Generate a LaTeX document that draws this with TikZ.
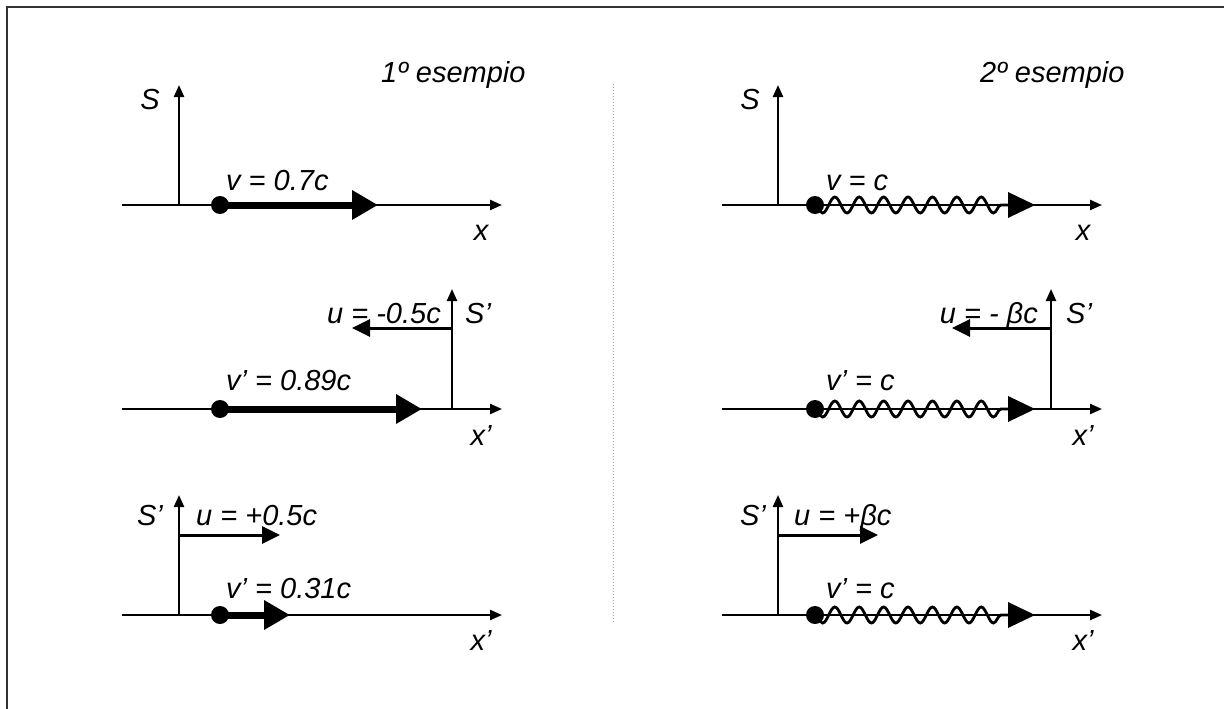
\documentclass[tikz,border=0pt]{standalone}
\usepackage{fontspec}
\setmainfont{Liberation Sans}
\usetikzlibrary{arrows.meta,decorations.pathmorphing}
\begin{document}
\begin{tikzpicture}[x=1pt,y=-1pt,
  lbl/.style={font=\fontsize{29}{33}\selectfont\itshape, inner sep=0pt},
  axisarr/.style={line width=2.3pt, -{Triangle[length=12pt,width=10pt]}},
  uarr/.style={line width=3pt, -{Triangle[length=18pt,width=17pt]}},
  velarr/.style={line width=7pt, -{Triangle[length=26pt,width=28pt]}},
  dotnode/.style={circle, fill=black, inner sep=0pt, minimum size=18pt},
  wave/.style={line width=2.8pt, decorate, decoration={snake, segment length=24.4pt, amplitude=8pt, mirror}},
  wavehead/.style={fill=black},
  sep/.style={gray!70, dotted, line width=1pt},
  framel/.style={line width=2pt, black!80}
]
\useasboundingbox (0,0) rectangle (1224,709);
% frame
\coordinate (fb) at (7,709); \coordinate (fc) at (7,7); \coordinate (fr) at (1224,7);
\draw[framel] (fb) -- (fc) -- (fr);
% separator
\coordinate (s1) at (613,84); \coordinate (s2) at (613,623);
\draw[sep] (s1) -- (s2);

% titles
\node[lbl, anchor=base west] (t1) at (381,83) {1º esempio};
\node[lbl, anchor=base west] (t2) at (980,83) {2º esempio};

% ---------- Example 1, row 1 ----------
\coordinate (a1l) at (122,205); \coordinate (a1r) at (502,205);
\coordinate (o1) at (179,205); \coordinate (o1t) at (179,85);
\draw[axisarr] (a1l) -- (a1r);
\draw[axisarr] (o1) -- (o1t);
\node[lbl, anchor=base] (S1) at (150,110) {S};
\node[lbl, anchor=base] (x1) at (481,240) {x};
\node[dotnode] (d1) at (220,205) {};
\coordinate (v1) at (378,205);
\draw[velarr] (d1.center) -- (v1);
\node[lbl, anchor=base west] (lv1) at (226,190) {v = 0.7c};

% ---------- Example 1, row 2 ----------
\coordinate (a2l) at (122,409); \coordinate (a2r) at (502,409);
\coordinate (o2) at (452,409); \coordinate (o2t) at (452,289);
\coordinate (u2s) at (452,328); \coordinate (u2e) at (352,328);
\draw[axisarr] (a2l) -- (a2r);
\draw[axisarr] (o2) -- (o2t);
\draw[uarr] (u2s) -- (u2e);
\node[lbl, anchor=base east] (lu2) at (441,323) {u = -0.5c};
\node[lbl, anchor=base west] (S2) at (465,323) {S'};
\node[lbl, anchor=base] (x2) at (481,445) {x'};
\node[dotnode] (d2) at (220,409) {};
\coordinate (v2) at (422,409);
\draw[velarr] (d2.center) -- (v2);
\node[lbl, anchor=base west] (lv2) at (226,390) {v' = 0.89c};

% ---------- Example 1, row 3 ----------
\coordinate (a3l) at (122,615); \coordinate (a3r) at (502,615);
\coordinate (o3) at (179,615); \coordinate (o3t) at (179,495);
\coordinate (u3s) at (179,535); \coordinate (u3e) at (280,535);
\draw[axisarr] (a3l) -- (a3r);
\draw[axisarr] (o3) -- (o3t);
\draw[uarr] (u3s) -- (u3e);
\node[lbl, anchor=base east] (S3) at (163,525) {S'};
\node[lbl, anchor=base west] (lu3) at (196,525) {u = +0.5c};
\node[lbl, anchor=base] (x3) at (481,650) {x'};
\node[dotnode] (d3) at (220,615) {};
\coordinate (v3) at (290,615);
\draw[velarr] (d3.center) -- (v3);
\node[lbl, anchor=base west] (lv3) at (226,598) {v' = 0.31c};

% ---------- Example 2, row 1 ----------
\coordinate (b1l) at (722,205); \coordinate (b1r) at (1102,205);
\coordinate (p1) at (778,205); \coordinate (p1t) at (778,85);
\draw[axisarr] (b1l) -- (b1r);
\draw[axisarr] (p1) -- (p1t);
\node[lbl, anchor=base] (T1) at (750,110) {S};
\node[lbl, anchor=base] (y1) at (1083,240) {x};
\node[dotnode] (e1) at (815,205) {};
\coordinate (w1) at (1010,205);
\draw[wave] (e1.center) -- (w1);
\fill[wavehead] (1008,192) -- (1035,205) -- (1008,218) -- cycle;
\node[lbl, anchor=base west] (lw1) at (826,190) {v = c};

% ---------- Example 2, row 2 ----------
\coordinate (b2l) at (722,409); \coordinate (b2r) at (1102,409);
\coordinate (p2) at (1051,409); \coordinate (p2t) at (1051,289);
\coordinate (q2s) at (1051,328); \coordinate (q2e) at (952,328);
\draw[axisarr] (b2l) -- (b2r);
\draw[axisarr] (p2) -- (p2t);
\draw[uarr] (q2s) -- (q2e);
\node[lbl, anchor=base east] (lq2) at (1038,323) {u = - βc};
\node[lbl, anchor=base west] (T2) at (1066,323) {S'};
\node[lbl, anchor=base] (y2) at (1083,445) {x'};
\node[dotnode] (e2) at (815,409) {};
\coordinate (w2) at (1010,409);
\draw[wave] (e2.center) -- (w2);
\fill[wavehead] (1008,396) -- (1035,409) -- (1008,422) -- cycle;
\node[lbl, anchor=base west] (lw2) at (826,390) {v' = c};

% ---------- Example 2, row 3 ----------
\coordinate (b3l) at (722,615); \coordinate (b3r) at (1102,615);
\coordinate (p3) at (778,615); \coordinate (p3t) at (778,495);
\coordinate (q3s) at (778,535); \coordinate (q3e) at (878,535);
\draw[axisarr] (b3l) -- (b3r);
\draw[axisarr] (p3) -- (p3t);
\draw[uarr] (q3s) -- (q3e);
\node[lbl, anchor=base east] (T3) at (766,525) {S'};
\node[lbl, anchor=base west] (lq3) at (794,525) {u = +βc};
\node[lbl, anchor=base] (y3) at (1083,650) {x'};
\node[dotnode] (e3) at (815,615) {};
\coordinate (w3) at (1010,615);
\draw[wave] (e3.center) -- (w3);
\fill[wavehead] (1008,602) -- (1035,615) -- (1008,628) -- cycle;
\node[lbl, anchor=base west] (lw3) at (826,598) {v' = c};
\end{tikzpicture}
\end{document}
